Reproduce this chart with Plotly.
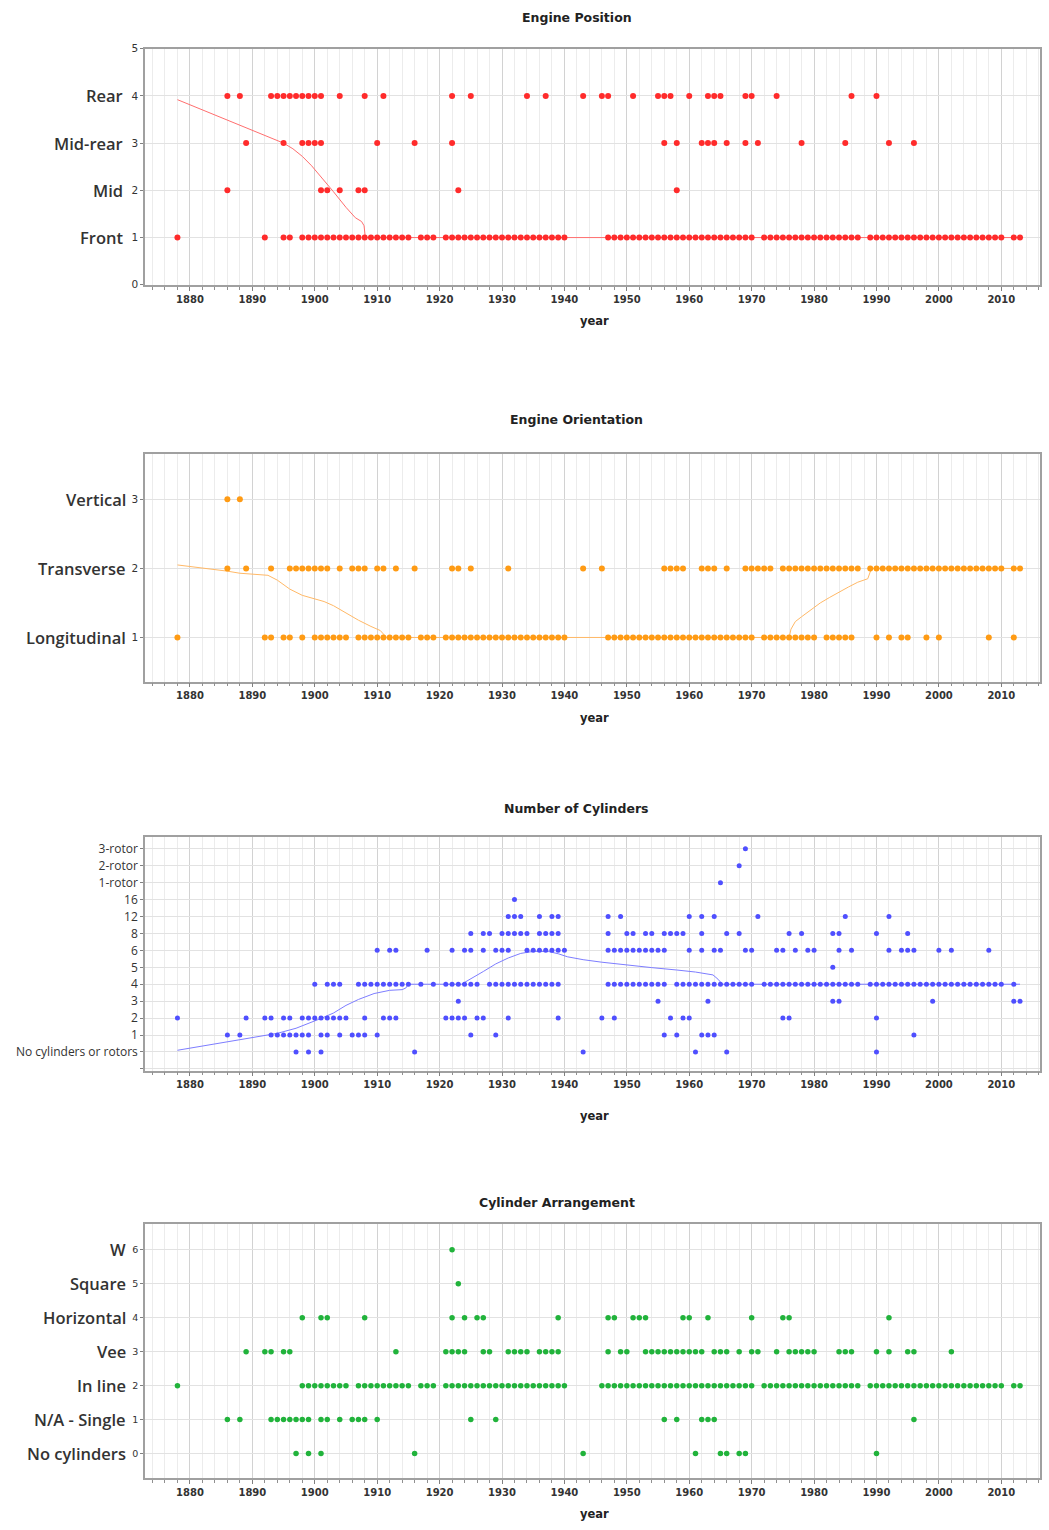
import plotly.graph_objects as go

W, H = 1049, 1530

# ---------------- Engine Position ----------------
pos_labels = ["Front", "Mid", "Mid-rear", "Rear"]
pos_front = [1878, 1892, 1895, 1896, 1898, 1899, 1900, 1901, 1902, 1903, 1904, 1905, 1906,
             1907, 1908, 1909, 1910, 1911, 1912, 1913, 1914, 1915, 1917, 1918, 1919, 1921,
             1922, 1923, 1924, 1925, 1926, 1927, 1928, 1929, 1930, 1931, 1932, 1933, 1934,
             1935, 1936, 1937, 1938, 1939, 1940, 1947, 1948, 1949, 1950, 1951, 1952, 1953,
             1954, 1955, 1956, 1957, 1958, 1959, 1960, 1961, 1962, 1963, 1964, 1965, 1966,
             1967, 1968, 1969, 1970, 1972, 1973, 1974, 1975, 1976, 1977, 1978, 1979, 1980,
             1981, 1982, 1983, 1984, 1985, 1986, 1987, 1989, 1990, 1991, 1992, 1993, 1994,
             1995, 1996, 1997, 1998, 1999, 2000, 2001, 2002, 2003, 2004, 2005, 2006, 2007,
             2008, 2009, 2010, 2012, 2013]
pos_mid = [1886, 1901, 1902, 1904, 1907, 1908, 1923, 1958]
pos_midrear = [1889, 1895, 1898, 1899, 1900, 1901, 1910, 1916, 1922, 1956, 1958, 1962, 1963,
               1964, 1966, 1969, 1971, 1978, 1985, 1992, 1996]
pos_rear = [1886, 1888, 1893, 1894, 1895, 1896, 1897, 1898, 1899, 1900, 1901, 1904, 1908,
            1911, 1922, 1925, 1934, 1937, 1943, 1946, 1947, 1951, 1955, 1956, 1957, 1960,
            1963, 1964, 1965, 1969, 1970, 1974, 1986, 1990]
pos_fit_year = [1878, 1886, 1892, 1895, 1896.5, 1898, 1899.5, 1901, 1903, 1905, 1906.5,
                1907.5, 1907.9, 1908.1, 2013]
pos_fit_val = [3.92, 3.49, 3.17, 3.0, 2.88, 2.72, 2.52, 2.29, 1.97, 1.64, 1.42, 1.34, 1.25,
               1.0, 1.0]

# ---------------- Engine Orientation ----------------
ori_labels = ["Longitudinal", "Transverse", "Vertical"]
ori_longitudinal = [1878, 1892, 1893, 1895, 1896, 1898, 1900, 1901, 1902, 1903, 1904, 1905,
                    1907, 1908, 1909, 1910, 1911, 1912, 1913, 1914, 1915, 1917, 1918, 1919,
                    1921, 1922, 1923, 1924, 1925, 1926, 1927, 1928, 1929, 1930, 1931, 1932,
                    1933, 1934, 1935, 1936, 1937, 1938, 1939, 1940, 1947, 1948, 1949, 1950,
                    1951, 1952, 1953, 1954, 1955, 1956, 1957, 1958, 1959, 1960, 1961, 1962,
                    1963, 1964, 1965, 1966, 1967, 1968, 1969, 1970, 1972, 1973, 1974, 1975,
                    1976, 1977, 1978, 1979, 1980, 1982, 1983, 1984, 1985, 1986, 1990, 1992,
                    1994, 1995, 1998, 2000, 2008, 2012]
ori_transverse = [1886, 1889, 1893, 1896, 1897, 1898, 1899, 1900, 1901, 1902, 1904, 1906,
                  1907, 1908, 1910, 1911, 1913, 1916, 1922, 1923, 1925, 1931, 1943, 1946,
                  1956, 1957, 1958, 1959, 1962, 1963, 1964, 1966, 1969, 1970, 1971, 1972,
                  1973, 1975, 1976, 1977, 1978, 1979, 1980, 1981, 1982, 1983, 1984, 1985,
                  1986, 1987, 1989, 1990, 1991, 1992, 1993, 1994, 1995, 1996, 1997, 1998,
                  1999, 2000, 2001, 2002, 2003, 2004, 2005, 2006, 2007, 2008, 2009, 2010,
                  2012, 2013]
ori_vertical = [1886, 1888]
ori_fit_year = [1878, 1882, 1886, 1888, 1891, 1892.5, 1894, 1896, 1898, 1899.5, 1901.5,
                1903, 1905, 1907, 1909, 1910.5, 1911.5, 1976, 1976.3, 1977, 1978, 1979.5,
                1981, 1982.5, 1984, 1985.5, 1987, 1988.6, 1989.2, 2013]
ori_fit_val = [2.05, 2.01, 1.96, 1.93, 1.91, 1.90, 1.83, 1.70, 1.61, 1.57, 1.52, 1.46, 1.35,
               1.25, 1.16, 1.10, 1.0, 1.0, 1.12, 1.23, 1.30, 1.40, 1.50, 1.58, 1.66, 1.73,
               1.80, 1.85, 2.0, 2.0]

# ---------------- Number of Cylinders ----------------
cyl_labels = ["No cylinders or rotors", "1", "2", "3", "4", "5", "6", "8", "12", "16",
              "1-rotor", "2-rotor", "3-rotor"]
cyl_none = [1897, 1899, 1901, 1916, 1943, 1961, 1966, 1990]
cyl_1 = [1886, 1888, 1893, 1894, 1895, 1896, 1897, 1898, 1899, 1901, 1902, 1904, 1906, 1907,
         1908, 1910, 1925, 1929, 1956, 1958, 1962, 1963, 1964, 1996]
cyl_2 = [1878, 1889, 1892, 1893, 1895, 1896, 1898, 1899, 1900, 1901, 1902, 1903, 1904, 1905,
         1908, 1911, 1912, 1913, 1921, 1922, 1923, 1924, 1926, 1927, 1931, 1939, 1946, 1948,
         1957, 1959, 1960, 1975, 1976, 1990]
cyl_3 = [1923, 1955, 1963, 1983, 1984, 1999, 2012, 2013]
cyl_4 = [1900, 1902, 1903, 1904, 1907, 1908, 1909, 1910, 1911, 1912, 1913, 1914, 1915, 1917,
         1919, 1921, 1922, 1923, 1924, 1925, 1926, 1928, 1929, 1930, 1931, 1932, 1933, 1934,
         1935, 1936, 1937, 1938, 1939, 1947, 1948, 1949, 1950, 1951, 1952, 1953, 1954, 1955,
         1956, 1958, 1959, 1960, 1961, 1962, 1963, 1964, 1965, 1966, 1967, 1968, 1969, 1970,
         1972, 1973, 1974, 1975, 1976, 1977, 1978, 1979, 1980, 1981, 1982, 1983, 1984, 1985,
         1986, 1987, 1989, 1990, 1991, 1992, 1993, 1994, 1995, 1996, 1997, 1998, 1999, 2000,
         2001, 2002, 2003, 2004, 2005, 2006, 2007, 2008, 2009, 2010, 2012]
cyl_5 = [1983]
cyl_6 = [1910, 1912, 1913, 1918, 1922, 1924, 1925, 1927, 1929, 1930, 1931, 1934, 1935, 1936,
         1937, 1938, 1939, 1940, 1947, 1948, 1949, 1950, 1951, 1952, 1953, 1954, 1955, 1956,
         1960, 1962, 1964, 1965, 1969, 1970, 1974, 1975, 1977, 1979, 1980, 1984, 1986, 1992,
         1994, 1995, 1996, 2000, 2002, 2008]
cyl_8 = [1925, 1927, 1928, 1930, 1931, 1932, 1933, 1934, 1936, 1937, 1938, 1939, 1947, 1950,
         1951, 1953, 1954, 1956, 1957, 1958, 1959, 1962, 1966, 1968, 1976, 1978, 1983, 1984,
         1990, 1995]
cyl_12 = [1931, 1932, 1933, 1936, 1938, 1939, 1947, 1949, 1960, 1962, 1964, 1971, 1985, 1992]
cyl_16 = [1932]
cyl_r1 = [1965]
cyl_r2 = [1968]
cyl_r3 = [1969]
cyl_fit_year = [1878, 1882, 1886, 1890, 1894, 1897, 1899, 1901, 1903, 1905, 1907, 1909.5,
                1912, 1914, 1914.6, 1915, 1923.5, 1925, 1927, 1929, 1931, 1933, 1935, 1937.5,
                1939, 1940.5, 1943, 1946, 1950, 1954, 1958, 1961, 1963.8, 1964.6, 1965.3, 2013]
cyl_fit_val = [0.1, 0.35, 0.62, 0.85, 1.1, 1.4, 1.68, 1.98, 2.3, 2.75, 3.1, 3.45, 3.64, 3.68,
               3.78, 4.0, 4.0, 4.3, 4.75, 5.2, 5.55, 5.82, 5.94, 5.93, 5.8, 5.62, 5.45, 5.3,
               5.12, 4.98, 4.84, 4.72, 4.55, 4.3, 4.0, 4.0]

# ---------------- Cylinder Arrangement ----------------
arr_labels = ["No cylinders", "N/A - Single", "In line", "Vee", "Horizontal", "Square", "W"]
arr_none = [1897, 1899, 1901, 1916, 1943, 1961, 1965, 1966, 1968, 1969, 1990]
arr_single = [1886, 1888, 1893, 1894, 1895, 1896, 1897, 1898, 1899, 1901, 1902, 1904, 1906,
              1907, 1908, 1910, 1925, 1929, 1956, 1958, 1962, 1963, 1964, 1996]
arr_inline = [1878, 1898, 1899, 1900, 1901, 1902, 1903, 1904, 1905, 1907, 1908, 1909, 1910,
              1911, 1912, 1913, 1914, 1915, 1917, 1918, 1919, 1921, 1922, 1923, 1924, 1925,
              1926, 1927, 1928, 1929, 1930, 1931, 1932, 1933, 1934, 1935, 1936, 1937, 1938,
              1939, 1940, 1946, 1947, 1948, 1949, 1950, 1951, 1952, 1953, 1954, 1955, 1956,
              1957, 1958, 1959, 1960, 1961, 1962, 1963, 1964, 1965, 1966, 1967, 1968, 1969,
              1970, 1972, 1973, 1974, 1975, 1976, 1977, 1978, 1979, 1980, 1981, 1982, 1983,
              1984, 1985, 1986, 1987, 1989, 1990, 1991, 1992, 1993, 1994, 1995, 1996, 1997,
              1998, 1999, 2000, 2001, 2002, 2003, 2004, 2005, 2006, 2007, 2008, 2009, 2010,
              2012, 2013]
arr_vee = [1889, 1892, 1893, 1895, 1896, 1913, 1921, 1922, 1923, 1924, 1927, 1928, 1931,
           1932, 1933, 1934, 1936, 1937, 1938, 1939, 1947, 1949, 1950, 1953, 1954, 1955,
           1956, 1957, 1958, 1959, 1960, 1961, 1962, 1964, 1965, 1966, 1968, 1970, 1971,
           1974, 1976, 1977, 1978, 1979, 1980, 1984, 1985, 1986, 1990, 1992, 1995, 1996, 2002]
arr_horizontal = [1898, 1901, 1902, 1908, 1922, 1924, 1926, 1927, 1939, 1947, 1948, 1951,
                  1952, 1953, 1959, 1960, 1963, 1970, 1975, 1976, 1992]
arr_square = [1923]
arr_w = [1922]

X_RANGE = [1872.8, 2016.2]
PLOT_LEFT, PLOT_RIGHT = 145, 1040

FONT = "DejaVu Sans"
LABEL_FONT = "Open Sans"


def fy(px):
    return 1 - px / H


def fx(px):
    return px / W


def rows_to_xy(rows):
    xs, ys = [], []
    for level, years in rows:
        xs.extend(years)
        ys.extend([level] * len(years))
    return xs, ys


panels = [
    dict(title="Engine Position", title_x=577, title_y=12, top=43, bottom=281,
         year_y=317, yrange=[0, 5], tickvals=[0, 1, 2, 3, 4, 5],
         ticktext=["0", "1", "2", "3", "4", "5"],
         rows=[(1, pos_front), (2, pos_mid), (3, pos_midrear), (4, pos_rear)],
         fit=(pos_fit_year, pos_fit_val), color="#ff2b2b", line="#ff6e6e", size=6,
         cats=[(1, pos_labels[0]), (2, pos_labels[1]), (3, pos_labels[2]), (4, pos_labels[3])],
         cat_right=125, tickfont=10.5),
    dict(title="Engine Orientation", title_x=576, title_y=417, top=452, bottom=681,
         year_y=718, yrange=[0.36, 3.65], tickvals=[1, 2, 3], ticktext=["1", "2", "3"],
         rows=[(1, ori_longitudinal), (2, ori_transverse), (3, ori_vertical)],
         fit=(ori_fit_year, ori_fit_val), color="#ff9b14", line="#ffb866", size=6,
         cats=[(1, ori_labels[0]), (2, ori_labels[1]), (3, ori_labels[2])],
         cat_right=128, tickfont=10.5),
    dict(title="Number of Cylinders", title_x=576, title_y=809, top=838, bottom=1073,
         year_y=1119, yrange=[-1.1, 12.67], tickvals=list(range(-1, 13)),
         ticktext=[""] + cyl_labels,
         rows=[(0, cyl_none), (1, cyl_1), (2, cyl_2), (3, cyl_3), (4, cyl_4), (5, cyl_5),
               (6, cyl_6), (7, cyl_8), (8, cyl_12), (9, cyl_16), (10, cyl_r1),
               (11, cyl_r2), (12, cyl_r3)],
         fit=(cyl_fit_year, cyl_fit_val), color="#4f4fff", line="#7d7dff", size=5,
         cats=[], cat_right=0, tickfont=12),
    dict(title="Cylinder Arrangement", title_x=557, title_y=1206, top=1228, bottom=1484,
         year_y=1520, yrange=[-0.73, 6.75], tickvals=list(range(0, 7)),
         ticktext=[str(i) for i in range(0, 7)],
         rows=[(0, arr_none), (1, arr_single), (2, arr_inline), (3, arr_vee),
               (4, arr_horizontal), (5, arr_square), (6, arr_w)],
         fit=None, color="#21b33b", line="#21b33b", size=5.5,
         cats=[(i, lab) for i, lab in enumerate(arr_labels)], cat_right=128, tickfont=9.5),
]

fig = go.Figure()
annotations = []
layout_axes = {}

for i, p in enumerate(panels, start=1):
    xa = "x" if i == 1 else f"x{i}"
    ya = "y" if i == 1 else f"y{i}"
    xkey = "xaxis" if i == 1 else f"xaxis{i}"
    ykey = "yaxis" if i == 1 else f"yaxis{i}"

    if p["fit"] is not None:
        fig.add_trace(go.Scatter(x=p["fit"][0], y=p["fit"][1], mode="lines",
                                 line=dict(color=p["line"], width=1),
                                 xaxis=xa, yaxis=ya, hoverinfo="skip", showlegend=False))
    xs, ys = rows_to_xy(p["rows"])
    fig.add_trace(go.Scatter(x=xs, y=ys, mode="markers",
                             marker=dict(color=p["color"], size=p["size"], line=dict(width=0)),
                             xaxis=xa, yaxis=ya, showlegend=False))

    layout_axes[xkey] = dict(
        domain=[fx(PLOT_LEFT), fx(PLOT_RIGHT)], anchor=ya, range=X_RANGE,
        tick0=1880, dtick=10, ticks="outside", ticklen=4, tickcolor="#808080",
        tickfont=dict(family=FONT, size=10, color="#333333", weight="bold"),
        showgrid=True, gridcolor="#d2d2d2", gridwidth=1,
        minor=dict(tick0=1880, dtick=2, ticks="outside", ticklen=3, tickcolor="#909090",
                   showgrid=True, gridcolor="#ececec", gridwidth=1),
        showline=True, linecolor="#a0a0a0", linewidth=1.5, mirror=True, zeroline=False,
    )
    layout_axes[ykey] = dict(
        domain=[fy(p["bottom"]), fy(p["top"])], anchor=xa, range=p["yrange"],
        tickmode="array", tickvals=p["tickvals"], ticktext=p["ticktext"],
        ticks="outside", ticklen=3, tickcolor="#808080",
        tickfont=dict(family=LABEL_FONT if i == 3 else FONT, size=p["tickfont"],
                      color="#333333"),
        showgrid=True, gridcolor="#e2e2e2", gridwidth=1,
        showline=True, linecolor="#a0a0a0", linewidth=1.5, mirror=True, zeroline=False,
    )

    annotations.append(dict(text=f"<b>{p['title']}</b>", xref="paper", yref="paper",
                            x=fx(p["title_x"]), y=fy(p["title_y"]), xanchor="center",
                            yanchor="middle", showarrow=False,
                            font=dict(family=FONT, size=12.5, color="#222222")))
    annotations.append(dict(text="<b>year</b>", xref="paper", yref="paper",
                            x=fx(594), y=fy(p["year_y"]), xanchor="center",
                            yanchor="middle", showarrow=False,
                            font=dict(family=FONT, size=11.5, color="#222222")))
    for level, label in p["cats"]:
        annotations.append(dict(text=label, xref="paper", yref=ya, x=fx(p["cat_right"]),
                                y=level, xanchor="right", yanchor="middle", showarrow=False,
                                font=dict(family=LABEL_FONT, size=16.5, color="#333333",
                                          weight=600)))

fig.update_layout(
    width=W, height=H, margin=dict(l=0, r=0, t=0, b=0),
    paper_bgcolor="white", plot_bgcolor="white",
    annotations=annotations, **layout_axes,
)

fig.write_html("out.html")
